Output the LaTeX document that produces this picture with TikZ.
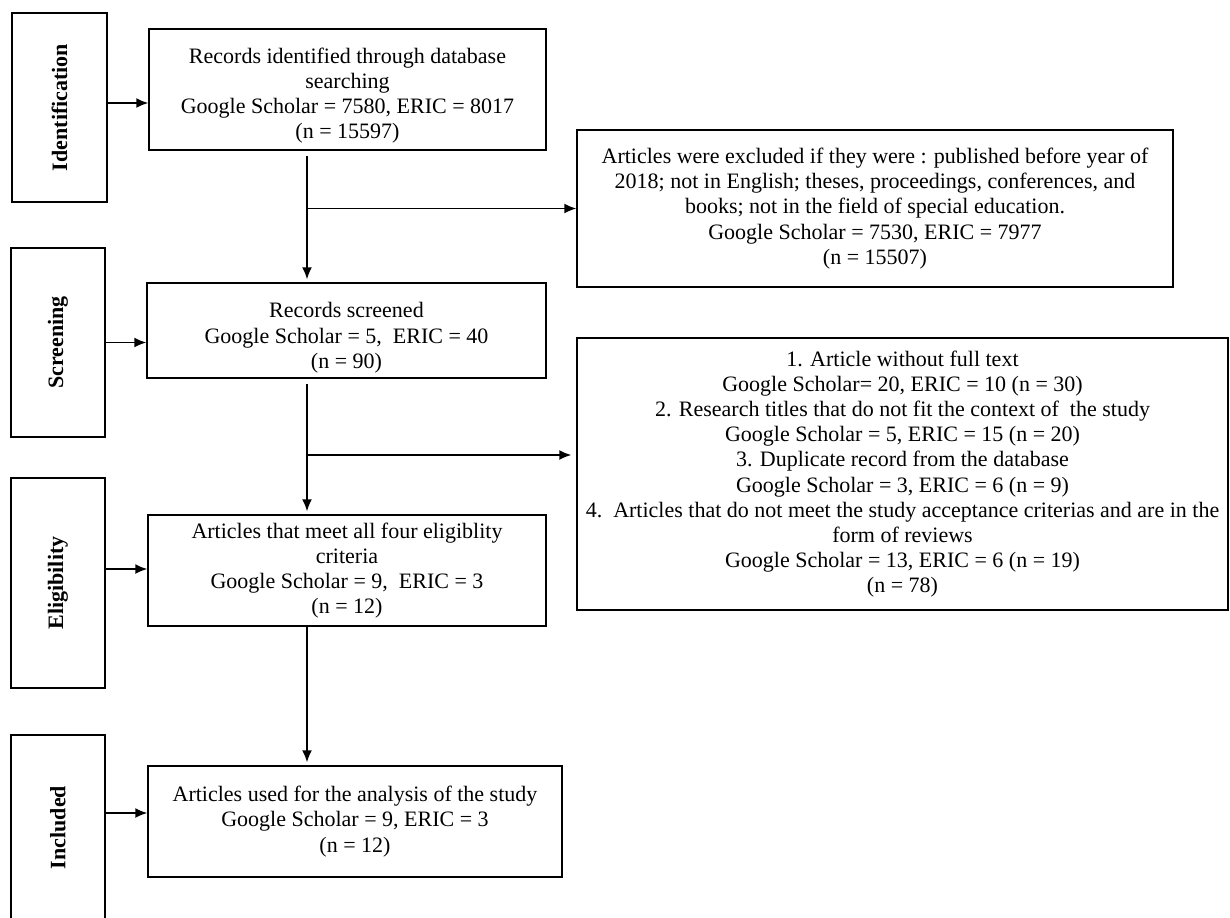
\documentclass[tikz,border=0pt]{standalone}
\usepackage{fontspec}
\setmainfont{Liberation Serif}
\usepackage{graphicx}
\usetikzlibrary{arrows.meta}

\begin{document}
\begin{tikzpicture}[x=0.5pt, y=-0.5pt,
    box/.style={draw, line width=0.75pt, inner sep=0pt, align=center,
      font=\fontsize{11}{12.6}\selectfont},
    sidebox/.style={draw, line width=0.75pt, inner sep=0pt, minimum width=47pt,
      font=\fontsize{11}{12.6}\selectfont\bfseries},
    arr/.style={-{Latex[length=6pt,width=5pt]}, line width=0.75pt}]
  \useasboundingbox (0,0) rectangle (1230,917);
  % stage labels on the left
  \node[sidebox, minimum width=47.5pt, minimum height=94.5pt] (sideI) at (59.5,107.5) {\rotatebox{90}{Identification}};
  \node[sidebox, minimum height=94.5pt] (sideS) at (58,342.5) {\rotatebox{90}{Screening}};
  \node[sidebox, minimum height=105pt] (sideE) at (58,583) {\rotatebox{90}{Eligibility}};
  \node[sidebox, minimum height=92.5pt] (sideN) at (58,827.5) {\rotatebox{90}{Included}};
  % main flow
  \node[box, minimum width=198.5pt, minimum height=60.5pt] (ident) at (347.5,89.5)
    {\rule{0pt}{14pt}Records identified through database\\ searching\\ Google Scholar = 7580, ERIC = 8017\\ (n = 15597)};
  \node[box, minimum width=199.5pt, minimum height=47.5pt] (screen) at (346.5,330.5)
    {\rule{0pt}{15pt}Records screened\\ Google Scholar = 5,\ \ ERIC = 40\\ (n = 90)};
  \node[box, minimum width=199pt, minimum height=55.5pt] (elig) at (347,570.5)
    {Articles that meet all four eligiblity\\ criteria\\ Google Scholar = 9,\ \ ERIC = 3\\ (n = 12)};
  \node[box, minimum width=207pt, minimum height=55.5pt] (incl) at (355,821.5)
    {Articles used for the analysis of the study\\ Google Scholar = 9, ERIC = 3\\ (n = 12)};
  % excluded records
  \node[box, minimum width=298pt, minimum height=78.5pt] (excl1) at (875,208.5)
    {Articles were excluded if they were : published before year of\\ 2018; not in English; theses, proceedings, conferences, and\\ books; not in the field of special education.\\ Google Scholar = 7530, ERIC = 7977\\ (n = 15507)};
  \node[box, minimum width=325.5pt, minimum height=136pt] (excl2) at (902.5,474)
    {1. Article without full text\\ Google Scholar= 20, ERIC = 10 (n = 30)\\ 2. Research titles that do not fit the context of\ \ the study\\ Google Scholar = 5, ERIC = 15 (n = 20)\\ 3. Duplicate record from the database\\ Google Scholar = 3, ERIC = 6 (n = 9)\\ 4.\ \ Articles that do not meet the study acceptance criterias and are in the\\ form of reviews\\ Google Scholar = 13, ERIC = 6 (n = 19)\\ (n = 78)};
  \coordinate (spine) at (307,0);
  % arrows
  \draw[arr] ([yshift=2.25pt]sideI.east) -- ([yshift=2.25pt]sideI.east -| ident.west);
  \draw[arr] (sideS.east) -- (sideS.east -| screen.west);
  \draw[arr] ([yshift=7pt]sideE.east) -- ([yshift=7pt]sideE.east -| elig.west);
  \draw[arr] ([yshift=7.25pt]sideN.east) -- ([yshift=7.25pt]sideN.east -| incl.west);
  \draw[arr, shorten <=2.5pt, shorten >=1.5pt] (ident.south -| spine) -- (screen.north -| spine);
  \draw[arr, shorten <=2.5pt, shorten >=1.5pt] (screen.south -| spine) -- (elig.north -| spine);
  \draw[arr, shorten >=1.5pt] (elig.south -| spine) -- (incl.north -| spine);
  \draw[arr] (excl1.west -| spine) -- (excl1.west);
  \draw[arr, shorten >=2.5pt] ([yshift=9.5pt]excl2.west -| spine) -- ([yshift=9.5pt]excl2.west);
\end{tikzpicture}
\end{document}
